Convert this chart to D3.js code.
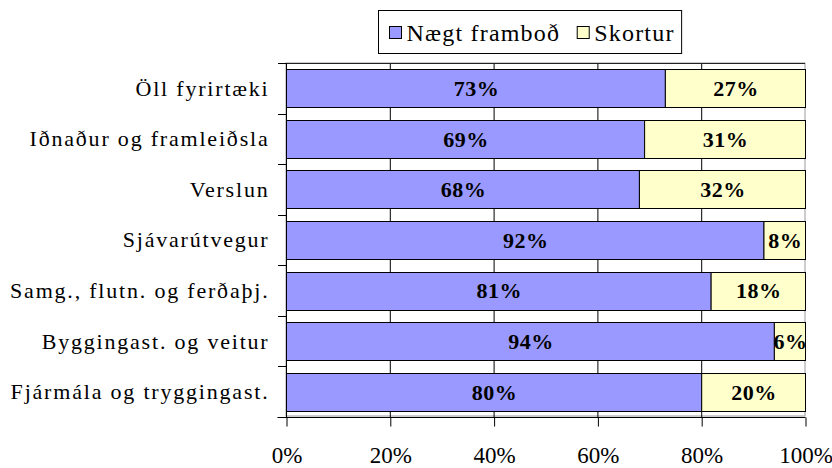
<!DOCTYPE html>
<html>
<head>
<meta charset="utf-8">
<script src="https://cdn.jsdelivr.net/npm/d3@7"></script>
<style>
  body { margin: 0; background: #fff; }
  svg text { font-family: "Liberation Serif", "Times New Roman", serif; fill: #000; }
</style>
</head>
<body>
<div id="chart"></div>
<script>
// data
const categories = [
  'Öll fyrirtæki',
  'Iðnaður og framleiðsla',
  'Verslun',
  'Sjávarútvegur',
  'Samg., flutn. og ferðaþj.',
  'Byggingast. og veitur',
  'Fjármála og tryggingast.'
];
const seriesNames = ['Nægt framboð', 'Skortur'];
const naegt   = [73, 69, 68, 92, 81, 94, 80];
const skortur = [27, 31, 32, 8, 18, 6, 20];
const xTicks  = [0, 0.2, 0.4, 0.6, 0.8, 1];

const W = 832, H = 468;
const plot = { left: 286, right: 805, top: 63, bottom: 417 };
const colors = ['#9999ff', '#ffffcc'];

const svg = d3.select('#chart').append('svg')
  .attr('width', W).attr('height', H);

const x = d3.scaleLinear().domain([0, 1]).range([plot.left, plot.right]);
const y = d3.scaleBand().domain(categories)
  .range([plot.top, plot.bottom]).paddingInner(0.25).paddingOuter(0.125);

// 100% stacked, like the original (81 + 18 still fills the row)
const table = categories.map((c, i) => ({ c, [seriesNames[0]]: naegt[i], [seriesNames[1]]: skortur[i] }));
const raw = { [seriesNames[0]]: naegt, [seriesNames[1]]: skortur };
const series = d3.stack().keys(seriesNames).offset(d3.stackOffsetExpand)(table);

// plot area frame
svg.append('rect')
  .attr('x', plot.left).attr('y', plot.top)
  .attr('width', plot.right - plot.left).attr('height', plot.bottom - plot.top - 1)
  .attr('fill', '#fff').attr('stroke', '#9a9a9a');

// vertical gridlines
svg.append('g').selectAll('line')
  .data(xTicks.slice(1, -1))
  .join('line')
    .attr('x1', d => x(d) + 0.5).attr('x2', d => x(d) + 0.5)
    .attr('y1', plot.top).attr('y2', plot.bottom)
    .attr('stroke', '#000');
svg.append('line')
  .attr('x1', plot.left).attr('x2', plot.right)
  .attr('y1', plot.top + 0.5).attr('y2', plot.top + 0.5)
  .attr('stroke', '#222');

// bars
const groups = svg.append('g').selectAll('g')
  .data(series).join('g')
  .attr('fill', (s, i) => colors[i]);

groups.selectAll('rect')
  .data(s => s.map(d => ({ d, key: s.key })))
  .join('rect')
    .attr('x', p => x(p.d[0]) + 0.5)
    .attr('y', p => Math.round(y(p.d.data.c)) + 0.5)
    .attr('width', p => x(p.d[1]) - x(p.d[0]))
    .attr('height', Math.round(y.bandwidth()))
    .attr('stroke', '#000');

groups.selectAll('text')
  .data(s => s.map((d, i) => ({ d, v: raw[s.key][i] })))
  .join('text')
    .attr('x', p => (x(p.d[0]) + x(p.d[1])) / 2 + 1)
    .attr('y', p => y(p.d.data.c) + y.bandwidth() / 2)
    .attr('dy', '0.36em')
    .attr('text-anchor', 'middle')
    .attr('font-weight', 'bold')
    .attr('font-size', 22)
    .attr('letter-spacing', 0.5)
    .text(p => p.v + '%');

// y axis (left)
const yAxis = svg.append('g')
  .attr('transform', `translate(${plot.left + 0.5},0)`)
  .call(d3.axisLeft(y).tickSize(0).tickPadding(17));
yAxis.select('.domain').attr('stroke', '#000').attr('d', `M0,${plot.top}V${plot.bottom}`);
yAxis.selectAll('text')
  .attr('font-size', 22)
  .attr('font-family', '"Liberation Serif", serif')
  .attr('letter-spacing', 1.8)
  .attr('dy', '0.34em');
// category separators as ticks
svg.append('g').selectAll('line')
  .data(d3.range(categories.length))
  .join('line')
    .attr('x1', plot.left - 8).attr('x2', plot.left)
    .attr('y1', i => Math.round(plot.top + i * y.step()) + 0.5)
    .attr('y2', i => Math.round(plot.top + i * y.step()) + 0.5)
    .attr('stroke', '#000');

// x axis (bottom)
const xAxis = svg.append('g')
  .attr('transform', `translate(0.5,${plot.bottom + 0.5})`)
  .call(d3.axisBottom(x).tickValues(xTicks).tickFormat(d3.format('.0%'))
    .tickSizeInner(9).tickSizeOuter(0).tickPadding(20));
xAxis.select('.domain').attr('stroke', '#000').attr('d', `M${plot.left - 9},0H${plot.right}`);
xAxis.selectAll('line').attr('stroke', '#000');
xAxis.selectAll('text')
  .attr('font-size', 23)
  .attr('font-family', '"Liberation Serif", serif');

// legend: items laid out one after the other from measured text widths
const lg = svg.append('g').attr('transform', 'translate(378.5,10.5)');
const box = lg.append('rect').attr('x', 0).attr('y', 0).attr('height', 43)
  .attr('fill', '#fff').attr('stroke', '#000');
let cx = 11;
seriesNames.forEach((n, i) => {
  lg.append('rect').attr('x', cx).attr('y', 16).attr('width', 12).attr('height', 12)
    .attr('fill', colors[i]).attr('stroke', '#000');
  const t = lg.append('text').attr('x', cx + 17).attr('y', 22).attr('dy', '0.36em')
    .attr('font-size', 24).attr('letter-spacing', 1.2).text(n);
  cx += 17 + t.node().getComputedTextLength() + 17;
});
box.attr('width', cx - 10);
</script>
</body>
</html>
